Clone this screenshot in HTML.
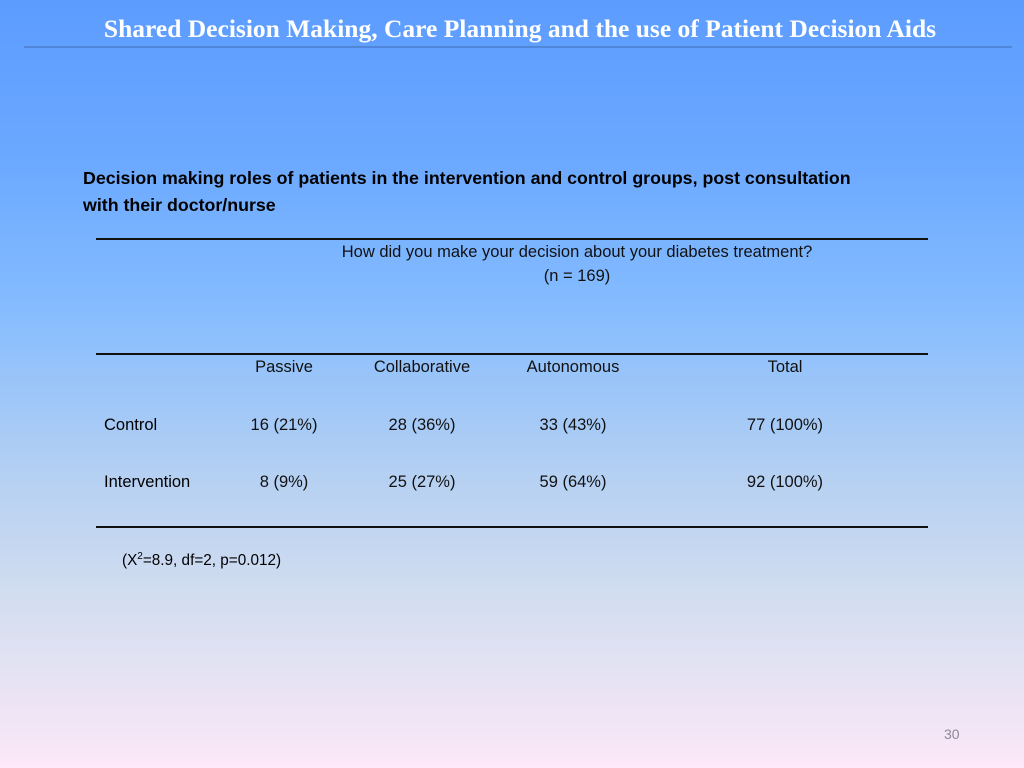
<!DOCTYPE html>
<html><head><meta charset="utf-8"><style>
body{margin:0;width:1024px;height:768px;overflow:hidden;position:relative;
background:linear-gradient(180deg,#5c9cff 0%,#6aa8ff 20%,#85bcff 40%,#b5d0f2 62%,#d6dff0 80%,#fce8f8 100%);
font-family:"Liberation Sans",sans-serif;}
.abs{position:absolute;white-space:nowrap}
.t{font-size:16.5px;color:#111;transform:translateX(-50%)}
.line{position:absolute;left:96px;width:832px;height:1.5px;background:#111}
</style></head><body>
<div class="abs" style="left:0;width:1040px;top:14px;text-align:center;font-family:'Liberation Serif',serif;font-weight:bold;font-size:25.5px;color:#fff">Shared Decision Making, Care Planning and the use of Patient Decision Aids</div>
<div class="abs" style="left:24px;top:46px;width:988px;height:2px;background:#4f86d9"></div>
<div class="abs" style="left:83px;top:165px;font-weight:bold;font-size:17.8px;line-height:27px;color:#000">Decision making roles of patients in the intervention and control groups, post consultation<br>with their doctor/nurse</div>
<div class="line" style="top:238px"></div>
<div class="abs t" style="left:577px;top:243px">How did you make your decision about your diabetes treatment?</div>
<div class="abs t" style="left:577px;top:267px">(n = 169)</div>
<div class="line" style="top:353px"></div>
<div class="abs t" style="left:284px;top:358px">Passive</div>
<div class="abs t" style="left:422px;top:358px">Collaborative</div>
<div class="abs t" style="left:573px;top:358px">Autonomous</div>
<div class="abs t" style="left:785px;top:358px">Total</div>
<div class="abs" style="left:104px;top:416px;font-size:16.5px">Control</div>
<div class="abs t" style="left:284px;top:416px">16 (21%)</div>
<div class="abs t" style="left:422px;top:416px">28 (36%)</div>
<div class="abs t" style="left:573px;top:416px">33 (43%)</div>
<div class="abs t" style="left:785px;top:416px">77 (100%)</div>
<div class="abs" style="left:104px;top:473px;font-size:16.5px">Intervention</div>
<div class="abs t" style="left:284px;top:473px">8 (9%)</div>
<div class="abs t" style="left:422px;top:473px">25 (27%)</div>
<div class="abs t" style="left:573px;top:473px">59 (64%)</div>
<div class="abs t" style="left:785px;top:473px">92 (100%)</div>
<div class="line" style="top:526px"></div>
<div class="abs" style="left:122px;top:551px;font-size:15.3px;color:#000">(X<sup style="font-size:10px">2</sup>=8.9, df=2, p=0.012)</div>
<div class="abs" style="left:944px;top:726px;font-size:14px;color:#8a8a9a">30</div>
</body></html>
